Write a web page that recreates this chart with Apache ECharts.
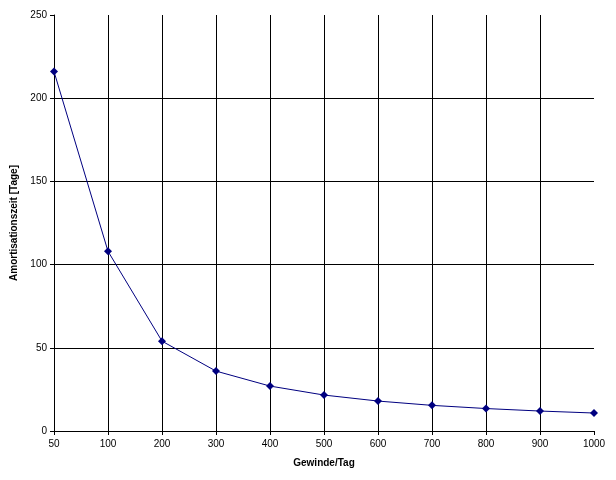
<!DOCTYPE html>
<html>
<head>
<meta charset="utf-8">
<script src="https://cdn.jsdelivr.net/npm/echarts@6/dist/echarts.min.js"></script>
<style>html,body{margin:0;padding:0;background:#fff}#c{width:616px;height:480px}</style>
</head>
<body>
<div id="c"></div>
<script>
const categories = ['50','100','200','300','400','500','600','700','800','900','1000'];
const amortisation = [216, 108, 54, 36, 27, 21.6, 18, 15.4, 13.5, 12, 10.8];
const yTicks = [0, 50, 100, 150, 200, 250];

const chart = echarts.init(document.getElementById('c'), null, {renderer: 'canvas'});
chart.setOption({
  animation: false,
  backgroundColor: '#ffffff',
  grid: {left: 54, right: 22, top: 15, bottom: 49},
  xAxis: {
    type: 'category',
    data: categories,
    boundaryGap: false,
    name: 'Gewinde/Tag',
    nameLocation: 'middle',
    nameGap: 27,
    nameTextStyle: {fontFamily: 'Liberation Sans', fontSize: 10, fontWeight: 'bold', color: '#000'},
    axisLine: {lineStyle: {color: '#000', width: 1}},
    axisTick: {show: true, length: 4, lineStyle: {color: '#000'}},
    axisLabel: {fontFamily: 'Liberation Sans', fontSize: 10, color: '#000', margin: 8},
    splitLine: {show: true, showMinLine: false, showMaxLine: false, lineStyle: {color: '#000', width: 1}}
  },
  yAxis: {
    type: 'value',
    min: yTicks[0],
    max: yTicks[yTicks.length - 1],
    interval: 50,
    name: 'Amortisationszeit [Tage]',
    nameLocation: 'middle',
    nameGap: 28,
    nameTextStyle: {fontFamily: 'Liberation Sans', fontSize: 10, fontWeight: 'bold', color: '#000'},
    axisLine: {show: true, lineStyle: {color: '#000', width: 1}},
    axisTick: {show: true, length: 4, lineStyle: {color: '#000'}},
    axisLabel: {fontFamily: 'Liberation Sans', fontSize: 10, color: '#000', margin: 7},
    splitLine: {show: true, showMinLine: false, showMaxLine: false, lineStyle: {color: '#000', width: 1}}
  },
  series: [{
    type: 'line',
    data: amortisation,
    symbol: 'diamond',
    symbolSize: 8,
    showAllSymbol: true,
    lineStyle: {color: '#000080', width: 1},
    itemStyle: {color: '#000080'}
  }]
});
</script>
</body>
</html>
